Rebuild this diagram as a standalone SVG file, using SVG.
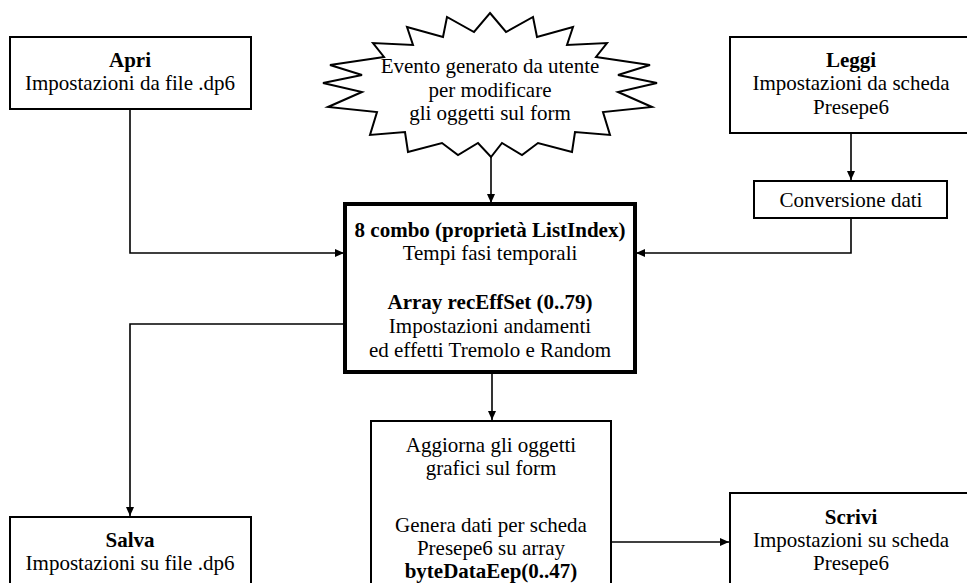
<svg xmlns="http://www.w3.org/2000/svg" width="967" height="583" viewBox="0 0 967 583">
<defs>
<style>
.box{fill:#fff;stroke:#000;stroke-width:2}
.main{fill:#fff;stroke:#000;stroke-width:4}
text{font-family:'Liberation Serif','Times New Roman',Tinos,'DejaVu Serif',serif;font-size:21px;fill:#000;text-anchor:middle}
.b{font-weight:bold}
.c{fill:none;stroke:#000;stroke-width:1.6}
</style>
<marker id="ah" markerWidth="10" markerHeight="10" refX="9" refY="5" orient="auto" markerUnits="userSpaceOnUse">
<path d="M0,1 L9,5 L0,9 Z" fill="#000"/>
</marker>
</defs>
<rect width="967" height="583" fill="#fff"/>
<g id="connectors">
<polyline class="c" points="130,109 130,253 344,253" marker-end="url(#ah)"/>
<polyline class="c" points="491,157 491,203" marker-end="url(#ah)"/>
<polyline class="c" points="851,133 851,180" marker-end="url(#ah)"/>
<polyline class="c" points="851,218 851,253 636,253" marker-end="url(#ah)"/>
<polyline class="c" points="345,324 130,324 130,516" marker-end="url(#ah)"/>
<polyline class="c" points="492,372 492,420" marker-end="url(#ah)"/>
<polyline class="c" points="611,542 729,542" marker-end="url(#ah)"/>
</g>
<g id="apri" font-family="Liberation Serif, serif">
<rect class="box" x="10" y="37" width="241" height="72"/>
<text class="b" x="130" y="67">Apri</text>
<text x="130" y="90">Impostazioni da file .dp6</text>
</g>
<g id="evento">
<polygon fill="#fff" stroke="#000" stroke-width="2" points="490,13 506,32 533,17 537,37 573,27 567,45 607,43 596,57 650,65 618,75 657,83 618,92 652,107 603,112 610,135 575,132 572,152 538,143 522,155 502,143 491,157 478,143 458,155 442,143 408,152 405,132 370,135 377,112 328,107 362,92 323,83 362,75 330,65 384,57 373,43 413,45 407,27 443,37 447,17 474,32"/>
<text x="490" y="73">Evento generato da utente</text>
<text x="490" y="97">per modificare</text>
<text x="490" y="120">gli oggetti sul form</text>
</g>
<g id="leggi">
<rect class="box" x="730" y="37" width="242" height="96"/>
<text class="b" x="851" y="67">Leggi</text>
<text x="851" y="90">Impostazioni da scheda</text>
<text x="851" y="114">Presepe6</text>
</g>
<g id="conversione">
<rect class="box" x="754" y="181" width="193" height="37"/>
<text x="851" y="207">Conversione dati</text>
</g>
<g id="combo">
<rect class="main" x="345" y="204" width="290" height="168"/>
<text class="b" x="490" y="237">8 combo (proprietà ListIndex)</text>
<text x="490" y="260">Tempi fasi temporali</text>
<text class="b" x="490" y="309">Array recEffSet (0..79)</text>
<text x="490" y="333">Impostazioni andamenti</text>
<text x="490" y="357">ed effetti Tremolo e Random</text>
</g>
<g id="salva">
<rect class="box" x="10" y="517" width="241" height="80"/>
<text class="b" x="130" y="547">Salva</text>
<text x="130" y="570">Impostazioni su file .dp6</text>
</g>
<g id="aggiorna">
<rect class="box" x="371" y="421" width="240" height="180"/>
<text x="491" y="452">Aggiorna gli oggetti</text>
<text x="491" y="475">grafici sul form</text>
<text x="491" y="532">Genera dati per scheda</text>
<text x="491" y="555">Presepe6 su array</text>
<text class="b" x="491" y="578">byteDataEep(0..47)</text>
</g>
<g id="scrivi">
<rect class="box" x="730" y="493" width="242" height="110"/>
<text class="b" x="851" y="524">Scrivi</text>
<text x="851" y="547">Impostazioni su scheda</text>
<text x="851" y="570">Presepe6</text>
</g>
</svg>
